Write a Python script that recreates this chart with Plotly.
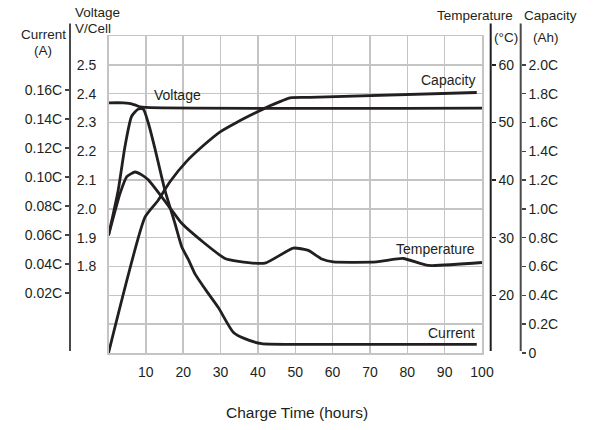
import plotly.graph_objects as go

# ---------------- data ----------------
volt_h = [0, 4, 5.5, 7, 8.5, 10, 100]
volt_v = [2.368, 2.368, 2.366, 2.361, 2.354, 2.352, 2.350]

curr_h = [0, 2.6, 4.4, 6.2, 8.0, 9.3, 10.7, 12.5, 15.1, 17.8, 19.6, 21.4, 23.2, 25.8, 29.4, 33.4, 36.5, 41.0, 52.6, 98.6]
curr_i = [0.060, 0.091, 0.121, 0.142, 0.147, 0.147, 0.137, 0.119, 0.091, 0.068, 0.052, 0.043, 0.033, 0.023, 0.010,
          -0.007, -0.0115, -0.015, -0.0154, -0.0154]

temp_h = [0, 3.1, 4.9, 7.1, 8.9, 10.7, 16.9, 19.6, 25.8, 31.2, 34.8, 41.9, 49.5, 53.5, 57.1, 60.2, 71.8, 78.9, 85.6, 100]
temp_c = [30.4, 37.7, 40.6, 41.4, 40.9, 40.0, 34.8, 32.5, 29.0, 26.4, 25.9, 25.6, 28.2, 27.8, 26.3, 25.8, 25.8, 26.4,
          25.2, 25.7]

cap_h = [0, 9.8, 13.3, 16.5, 20.9, 25.4, 29.9, 34.3, 38.8, 43.2, 48.6, 53.9, 98.6]
cap_c = [0, 0.944, 1.06, 1.19, 1.33, 1.44, 1.535, 1.60, 1.66, 1.715, 1.771, 1.774, 1.808]

x_ticks = [10, 20, 30, 40, 50, 60, 70, 80, 90, 100]
volt_ticks = [1.8, 1.9, 2.0, 2.1, 2.2, 2.3, 2.4, 2.5]
curr_ticks = [0.02, 0.04, 0.06, 0.08, 0.10, 0.12, 0.14, 0.16]
curr_labels = ["0.02C", "0.04C", "0.06C", "0.08C", "0.10C", "0.12C", "0.14C", "0.16C"]
temp_ticks = [20, 30, 40, 50, 60]
cap_ticks = [0, 0.2, 0.4, 0.6, 0.8, 1.0, 1.2, 1.4, 1.6, 1.8, 2.0]
cap_labels = ["0", "0.2C", "0.4C", "0.6C", "0.8C", "1.0C", "1.2C", "1.4C", "1.6C", "1.8C", "2.0C"]

# ---------------- layout geometry (pixels) ----------------
W, H = 593, 430
PL, PR, PT, PB = 108.5, 482.0, 35.9, 352.7
FONT = "Arial, Liberation Sans, Helvetica, sans-serif"
INK = "#231f20"
GRID = "#c4c4c4"


def px_x(x):
    return x / W


def px_y(y):
    return (PB - y) / (PB - PT)


fig = go.Figure()
line = dict(color=INK, width=2.8)
fig.add_trace(go.Scatter(x=volt_h, y=volt_v, mode="lines", line=dict(line, shape="spline"), yaxis="y", hoverinfo="skip"))
fig.add_trace(go.Scatter(x=curr_h, y=curr_i, mode="lines", line=dict(line, shape="spline", smoothing=0.6), yaxis="y2", hoverinfo="skip"))
fig.add_trace(go.Scatter(x=temp_h, y=temp_c, mode="lines", line=dict(line, shape="spline", smoothing=0.5), yaxis="y3", hoverinfo="skip"))
fig.add_trace(go.Scatter(x=cap_h, y=cap_c, mode="lines", line=dict(line, shape="spline", smoothing=0.5), yaxis="y4", hoverinfo="skip"))

grid_vals = [round(1.5 + 0.1 * k, 2) for k in range(12)]
grid_text = [("%.1f" % v) if v in volt_ticks else "" for v in grid_vals]

tickfont = dict(family=FONT, size=14, color="#231f20")

fig.update_layout(
    width=W, height=H, autosize=False,
    margin=dict(l=0, r=0, t=PT, b=H - PB, pad=0, autoexpand=False),
    paper_bgcolor="white", plot_bgcolor="white",
    showlegend=False,
    font=dict(family=FONT, size=14, color=INK),
    xaxis=dict(domain=[PL / W, PR / W], range=[0, 100], tickvals=x_ticks, ticktext=[str(v) for v in x_ticks],
               showgrid=True, gridcolor=GRID, gridwidth=1.5, showline=True, linecolor=GRID, linewidth=1.5,
               mirror=True, ticks="outside", ticklen=6, tickcolor="rgba(0,0,0,0)", tickfont=tickfont,
               zeroline=False, fixedrange=True, automargin=False),
    yaxis=dict(range=[1.5, 2.6], tickvals=grid_vals, ticktext=grid_text, showgrid=True, gridcolor=GRID,
               gridwidth=1.5, showline=True, linecolor=GRID, linewidth=1.5, mirror=True, ticks="outside",
               ticklen=8, tickcolor="rgba(0,0,0,0)", tickfont=tickfont, zeroline=False, anchor="x",
               automargin=False),
    yaxis2=dict(range=[-0.0214, 0.1974], overlaying="y", anchor="free", position=px_x(70), side="left",
                tickvals=curr_ticks, ticktext=curr_labels, ticks="outside", ticklen=5, tickwidth=2,
                tickcolor="#444444", showgrid=False, showline=False, zeroline=False, tickfont=tickfont,
                automargin=False),
    yaxis3=dict(range=[10, 65], overlaying="y", anchor="free", position=px_x(490.7), side="right",
                tickvals=temp_ticks, ticks="outside", ticklen=4, tickwidth=1.5, tickcolor=INK,
                showgrid=False, showline=False, zeroline=False, tickfont=tickfont, automargin=False),
    yaxis4=dict(range=[0, 2.2], overlaying="y", anchor="free", position=px_x(520.7), side="right",
                tickvals=cap_ticks, ticktext=cap_labels, ticks="outside", ticklen=4, tickwidth=1.5,
                tickcolor="#444444", showgrid=False, showline=False, zeroline=False, tickfont=tickfont,
                automargin=False),
)

# separate vertical axis lines that run beyond the plot area
for xp, col in [(70, "#4a4a4a"), (490.7, INK), (520.7, "#4a4a4a")]:
    fig.add_shape(type="line", xref="paper", yref="paper", x0=px_x(xp), x1=px_x(xp),
                  y0=px_y(23.5), y1=px_y(350.7), line=dict(color=col, width=2))


def label(text, xp, yp, xanchor="center", size=14):
    fig.add_annotation(text=text, xref="paper", yref="paper", x=px_x(xp), y=px_y(yp), xanchor=xanchor,
                       yanchor="middle", showarrow=False, font=dict(family=FONT, size=size, color=INK))


# curve labels
label("Voltage", 177.7, 95)
label("Capacity", 477, 79.5, xanchor="right")
label("Temperature", 477, 248.3, xanchor="right")
label("Current", 477, 332.7, xanchor="right")

# axis titles
label("Voltage", 73, 12.5, xanchor="left", size=13.5)
label("V/Cell", 73, 28.3, xanchor="left", size=13.5)
label("Current", 43, 34.3, size=13.5)
label("(A)", 43, 50, size=13.5)
label("Temperature", 515, 15, xanchor="right", size=13.5)
label("Capacity", 521.5, 15, xanchor="left", size=13.5)
label("(°C)", 506.3, 37.3, size=13.5)
label("(Ah)", 545.5, 37.3, size=13.5)
label("Charge Time (hours)", 296.7, 412, size=15.5)

fig.write_html("out.html", config={"displayModeBar": False, "staticPlot": True},
               post_script="document.body.style.margin='0px';")
